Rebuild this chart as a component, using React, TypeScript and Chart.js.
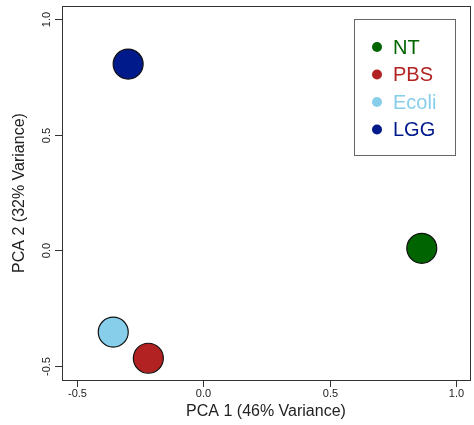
import React, { useEffect, useRef } from "react";
import { Chart, registerables } from "chart.js";

Chart.register(...registerables);

const groups = ["NT", "PBS", "Ecoli", "LGG"];
const pca1 = [0.865, -0.218, -0.357, -0.298];
const pca2 = [0.009, -0.466, -0.353, 0.805];
const colors = ["#006400", "#B22222", "#87CEEB", "#001a8c"];
const tickValues = [-0.5, 0.0, 0.5, 1.0];
const tickLabels = ["-0.5", "0.0", "0.5", "1.0"];
const xTitle = "PCA 1 (46% Variance)";
const yTitle = "PCA 2 (32% Variance)";

const FONT = "'Liberation Sans', Arial, Helvetica, sans-serif";

const axesPlugin = {
  id: "rAxes",
  afterDraw(chart: any) {
    const ctx = chart.ctx as CanvasRenderingContext2D;
    const { left, right, top, bottom } = chart.chartArea;
    const xs = chart.scales.x;
    const ys = chart.scales.y;
    ctx.save();
    // box
    ctx.strokeStyle = "#333";
    ctx.lineWidth = 1;
    ctx.strokeRect(Math.round(left) + 0.5, Math.round(top) + 0.5, Math.round(right - left), Math.round(bottom - top));
    ctx.fillStyle = "#222";
    ctx.font = `11px ${FONT}`;
    // x ticks
    tickValues.forEach((v, i) => {
      const px = Math.round(xs.getPixelForValue(v)) + 0.5;
      ctx.beginPath();
      ctx.moveTo(px, bottom);
      ctx.lineTo(px, bottom + 7);
      ctx.stroke();
      ctx.textAlign = "center";
      ctx.textBaseline = "middle";
      ctx.fillText(tickLabels[i], px, bottom + 14);
    });
    // y ticks
    tickValues.forEach((v, i) => {
      const py = Math.round(ys.getPixelForValue(v)) + 0.5;
      ctx.beginPath();
      ctx.moveTo(left, py);
      ctx.lineTo(left - 7, py);
      ctx.stroke();
      ctx.save();
      ctx.translate(left - 15, py);
      ctx.rotate(-Math.PI / 2);
      ctx.textAlign = "center";
      ctx.textBaseline = "middle";
      ctx.fillText(tickLabels[i], 0, 0);
      ctx.restore();
    });
    // titles
    ctx.font = `16px ${FONT}`;
    ctx.textAlign = "center";
    ctx.textBaseline = "middle";
    ctx.fillText(xTitle, (left + right) / 2, bottom + 32);
    ctx.save();
    ctx.translate(20, (top + bottom) / 2);
    ctx.rotate(-Math.PI / 2);
    ctx.fillText(yTitle, 0, 0);
    ctx.restore();
    // legend
    const lx = 354.5, ly = 19.5, lw = 101, lh = 136;
    ctx.fillStyle = "#fff";
    ctx.fillRect(lx, ly, lw, lh);
    ctx.strokeStyle = "#666";
    ctx.strokeRect(lx, ly, lw, lh);
    ctx.font = `20px ${FONT}`;
    ctx.textAlign = "left";
    groups.forEach((g, i) => {
      const cy = 47 + i * 27.5;
      ctx.fillStyle = colors[i];
      ctx.beginPath();
      ctx.arc(377, cy, 5, 0, Math.PI * 2);
      ctx.fill();
      ctx.fillText(g, 393, cy + 1);
    });
    ctx.restore();
  },
};

export default function App() {
  const ref = useRef<HTMLCanvasElement>(null);
  useEffect(() => {
    document.body.style.margin = "0";
    const chart = new Chart(ref.current!, {
      type: "scatter",
      data: {
        datasets: groups.map((g, i) => ({
          label: g,
          data: [{ x: pca1[i], y: pca2[i] }],
          backgroundColor: colors[i],
          borderColor: "#111",
          borderWidth: 1.2,
          pointRadius: 15,
          pointHoverRadius: 15,
        })),
      },
      options: {
        animation: false,
        responsive: false,
        layout: { autoPadding: false, padding: { left: 62, right: 4, top: 6, bottom: 45 } },
        plugins: { legend: { display: false }, tooltip: { enabled: false } },
        scales: {
          x: { type: "linear", display: false, min: -0.56, max: 1.056 },
          y: { type: "linear", display: false, min: -0.56, max: 1.056 },
        },
      },
      plugins: [axesPlugin],
    });
    return () => chart.destroy();
  }, []);
  return (
    <div style={{ width: 474, height: 425, background: "#fff" }}>
      <canvas ref={ref} width={474} height={425} />
    </div>
  );
}
